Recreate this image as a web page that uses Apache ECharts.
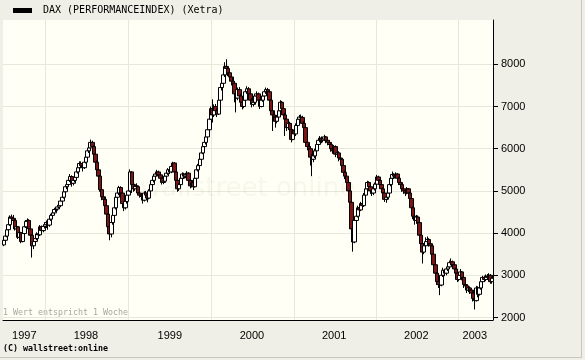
<!DOCTYPE html>
<html><head><meta charset="utf-8">
<script src="https://cdn.jsdelivr.net/npm/echarts@6/dist/echarts.min.js"></script>
<style>html,body{margin:0;padding:0;background:#f0efe7}#c{width:585px;height:360px}</style>
</head><body><div id="c"></div>
<script>
const seriesName = 'DAX (PERFORMANCEINDEX) (Xetra)';
const years = ['1997','1998','1999','2000','2001','2002','2003'];
const yTicks = [2000,3000,4000,5000,6000,7000,8000];
// weekly candles: [open, close, low, high]
const w1997 = [
[3720,3830,3690,3870],[3830,3930,3800,3970],[3930,4080,3900,4110],[4080,4200,4050,4250],
[4200,4380,4170,4420],[4380,4350,4290,4440],[4350,4300,4230,4430],[4300,4100,4060,4330],
[4100,4150,4040,4200],[4150,3900,3860,4170],[3900,4010,3850,4060],[4010,3800,3760,4030],
[3800,3990,3780,4030],[3990,4150,3960,4190],[4150,4280,4120,4310],[4280,4300,4200,4350],
[4300,4100,4050,4330],[4100,3950,3880,4140],[3950,3700,3420,3980],[3700,3800,3620,3860],
[3800,3870,3720,3920],[3870,3980,3830,4020],[3980,3960,3880,4040],[3960,4150,3930,4190],
[4150,4060,4000,4180],[4060,4160,4020,4200],[4160,4200,4110,4260]
];
const w1998 = [
[4200,4250,4120,4300],[4250,4190,4080,4290],[4190,4330,4150,4370],[4330,4420,4290,4460],
[4420,4480,4380,4520],[4480,4560,4440,4600],[4560,4570,4500,4620],[4570,4620,4530,4670],
[4620,4650,4580,4700],[4650,4760,4620,4800],[4760,4850,4720,4890],[4850,4980,4820,5020],
[4980,5100,4950,5140],[5100,5150,5040,5200],[5150,5250,5110,5290],[5250,5340,5210,5400],
[5340,5180,5100,5370],[5180,5250,5130,5300],[5250,5320,5200,5370],[5320,5450,5290,5490],
[5450,5550,5410,5600],[5550,5650,5510,5700],[5650,5600,5540,5700],[5600,5550,5460,5640],
[5550,5680,5520,5720],[5680,5800,5650,5840],[5800,5950,5770,5990],[5950,6020,5900,6080],
[6020,6150,5990,6217],[6150,6050,5990,6190],[6050,5870,5820,6080],[5870,5680,5620,5900],
[5680,5500,5440,5720],[5500,5350,5280,5540],[5350,5030,4980,5380],[5030,4860,4780,5080],
[4860,4800,4680,4950],[4800,4650,4580,4850],[4650,4450,4400,4720],[4450,4150,4090,4480],
[4150,3980,3830,4200],[3980,4250,3900,4300],[4250,4420,4200,4460],[4420,4600,4380,4650],
[4600,4850,4560,4900],[4850,4950,4800,5000],[4950,5080,4900,5120],[5080,4950,4900,5110],
[4950,4700,4650,4980],[4700,4600,4520,4760],[4600,4750,4560,4800],[4750,4900,4700,4950]
];
const w1999 = [
[4900,5000,4860,5050],[5000,5450,4980,5510],[5450,5150,4950,5470],[5150,5050,4980,5200],
[5050,5120,5000,5170],[5120,5100,5030,5180],[5100,4950,4900,5130],[4950,4900,4840,5000],
[4900,4870,4800,4950],[4870,4780,4700,4900],[4780,4950,4750,4990],[4950,4900,4840,5000],
[4900,4830,4730,4940],[4830,5000,4800,5040],[5000,5150,4970,5190],[5150,5250,5110,5290],
[5250,5350,5200,5390],[5350,5400,5300,5450],[5400,5450,5350,5500],[5450,5380,5320,5480],
[5380,5300,5240,5410],[5300,5200,5150,5320],[5200,5230,5160,5280],[5230,5350,5200,5390],
[5350,5420,5310,5460],[5420,5500,5380,5540],[5500,5450,5400,5530],[5450,5580,5420,5620],
[5580,5660,5540,5690],[5660,5450,5400,5680],[5450,5250,5200,5470],[5250,5050,4980,5270],
[5050,5150,5000,5190],[5150,5300,5120,5340],[5300,5400,5260,5440],[5400,5350,5290,5430],
[5350,5380,5300,5420],[5380,5420,5330,5470],[5420,5250,5200,5440],[5250,5120,5060,5270],
[5120,5200,5080,5240],[5200,5100,5020,5230],[5100,5300,5080,5340],[5300,5500,5270,5530],
[5500,5600,5460,5640],[5600,5750,5570,5790],[5750,5900,5720,5940],[5900,6050,5870,6090],
[6050,6150,6010,6200],[6150,6280,6100,6320],[6280,6450,6240,6490],[6450,6700,6420,6740],
[6700,6950,6680,7000]
];
const w2000 = [
[6950,6800,6620,7170],[6800,7000,6750,7050],[7000,6900,6830,7060],[6900,6820,6750,6950],
[6820,7150,6800,7190],[7150,7450,7120,7500],[7450,7550,7380,7620],[7550,7750,7500,7820],
[7750,7950,7700,8050],[7950,7900,7800,8120],[7900,7800,7720,7960],[7800,7700,7620,7880],
[7700,7600,7500,7760],[7600,7550,7450,7680],[7550,7300,7100,7600],[7300,7200,6860,7350],
[7200,7400,7150,7450],[7400,7250,7180,7460],[7250,7100,7020,7300],[7100,7000,6930,7180],
[7000,7150,6960,7200],[7150,7350,7120,7400],[7350,7420,7300,7480],[7420,7300,7240,7460],
[7300,7150,7080,7330],[7150,7050,6980,7200],[7050,7100,7000,7160],[7100,7250,7060,7290],
[7250,7300,7200,7360],[7300,7150,7080,7330],[7150,7000,6940,7180],[7000,7150,6980,7190],
[7150,7250,7110,7290],[7250,7350,7210,7400],[7350,7400,7300,7450],[7400,7350,7280,7440],
[7350,7150,7080,7380],[7150,6900,6830,7180],[6900,6800,6420,6950],[6800,6750,6650,6900],
[6750,6650,6500,6800],[6650,6750,6600,6800],[6750,6900,6700,6950],[6900,7100,6870,7150],
[7100,6950,6880,7130],[6950,6800,6720,6980],[6800,6700,6300,6850],[6700,6500,6420,6750],
[6500,6600,6450,6650],[6600,6450,6380,6640],[6450,6220,6150,6480],[6220,6430,6200,6470]
];
const w2001 = [
[6430,6350,6250,6500],[6350,6550,6300,6600],[6550,6700,6500,6750],[6700,6750,6640,6800],
[6750,6740,6650,6810],[6740,6600,6520,6780],[6600,6500,6420,6650],[6500,6150,6060,6530],
[6150,6050,5960,6200],[6050,6000,5900,6120],[6000,5800,5600,6050],[5800,5750,5350,5880],
[5750,5830,5680,5900],[5830,5950,5780,6000],[5950,6100,5900,6140],[6100,6200,6050,6250],
[6200,6250,6150,6300],[6250,6200,6130,6290],[6200,6230,6150,6280],[6230,6280,6180,6330],
[6280,6200,6130,6300],[6200,6150,6080,6240],[6150,6100,6030,6200],[6100,6000,5930,6130],
[6000,5950,5880,6050],[5950,6050,5900,6090],[6050,5870,5800,6080],[5870,5900,5800,5960],
[5900,5780,5700,5940],[5780,5750,5670,5830],[5750,5600,5530,5780],[5600,5440,5380,5630],
[5440,5350,5280,5480],[5350,5200,5130,5380],[5200,5000,4930,5230],[5000,4730,4650,5030],
[4730,4100,4050,4760],[4100,3790,3560,4150],[3790,4300,3760,4350],[4300,4400,4250,4450],
[4400,4600,4370,4650],[4600,4550,4480,4660],[4550,4700,4520,4740],[4700,4650,4580,4750],
[4650,4900,4620,4950],[4900,5050,4870,5100],[5050,5200,5010,5240],[5200,5100,5030,5230],
[5100,5000,4930,5130],[5000,4950,4880,5040],[4950,5050,4900,5100],[5050,5160,5010,5200]
];
const w2002 = [
[5160,5330,5120,5380],[5330,5250,5180,5360],[5250,5150,5080,5280],[5150,5050,4980,5180],
[5050,4950,4880,5080],[4950,4800,4740,4980],[4800,4850,4720,4900],[4850,4950,4800,5000],
[4950,5150,4920,5190],[5150,5300,5110,5340],[5300,5390,5260,5460],[5390,5350,5280,5420],
[5350,5400,5300,5440],[5400,5300,5240,5420],[5300,5200,5140,5330],[5200,5150,5080,5230],
[5150,5050,4980,5180],[5050,5000,4930,5080],[5000,4950,4880,5040],[4950,5050,4920,5090],
[5050,4950,4880,5070],[4950,4820,4750,4980],[4820,4600,4530,4850],[4600,4400,4330,4630],
[4400,4300,4200,4450],[4300,4380,4220,4430],[4380,4250,4180,4420],[4250,3950,3880,4280],
[3950,3750,3650,3980],[3750,3550,3280,3780],[3550,3700,3500,3750],[3700,3800,3650,3900],
[3800,3850,3740,3920],[3850,3750,3680,3880],[3750,3700,3620,3790],[3700,3500,3430,3730],
[3500,3250,3180,3530],[3250,3050,2980,3280],[3050,2850,2780,3080],[2850,2780,2700,2900],
[2780,2770,2530,2850],[2770,3000,2740,3050],[3000,3120,2960,3180],[3120,3050,2980,3150],
[3050,3150,3000,3200],[3150,3200,3100,3250],[3200,3300,3160,3350],[3300,3320,3240,3400],
[3320,3250,3180,3350],[3250,3150,3080,3280],[3150,3050,2980,3180],[3050,2900,2840,3080]
];
const w2003 = [
[2900,3000,2860,3050],[3000,3080,2950,3150],[3080,2950,2880,3100],[2950,2780,2700,2980],
[2780,2750,2650,2820],[2750,2650,2580,2790],[2650,2700,2600,2750],[2700,2650,2560,2740],
[2650,2580,2500,2700],[2580,2450,2380,2620],[2450,2400,2190,2500],[2400,2700,2380,2750],
[2700,2550,2480,2740],[2550,2700,2520,2750],[2700,2850,2660,2890],[2850,2950,2800,2990],
[2950,2900,2840,2990],[2900,2980,2860,3020],[2980,2950,2890,3030],[2950,3000,2910,3050],
[3000,2850,2800,3030],[2850,2930,2800,2970]
];

const weekly = [w1997, w1998, w1999, w2000, w2001, w2002, w2003];
const categories = [], candles = [], yearStart = new Set(), labelAt = {};
weekly.forEach((arr, yi) => {
  if (yi > 0) yearStart.add(categories.length);
  labelAt[categories.length + Math.floor((arr.length - 1) / 2)] = years[yi];
  arr.forEach((c, k) => { categories.push(years[yi] + '-' + (k + 1)); candles.push(c); });
});

const chart = echarts.init(document.getElementById('c'), null, {renderer: 'canvas'});
chart.setOption({
  animation: false,
  backgroundColor: '#f0efe7',
  grid: {left: 3, right: 92, top: 20, bottom: 40, show: true, backgroundColor: '#fffff5', borderWidth: 0},
  xAxis: {
    type: 'category', data: categories, boundaryGap: true,
    axisLine: {lineStyle: {color: '#000', width: 1}},
    axisTick: {interval: (i) => yearStart.has(i), length: 4, lineStyle: {color: '#000'}},
    splitLine: {show: true, interval: (i) => yearStart.has(i), lineStyle: {color: '#e8e8da'}},
    axisLabel: {
      interval: (i) => labelAt[i] !== undefined,
      formatter: (v) => v.split('-')[0],
      color: '#000', fontFamily: 'Liberation Sans', fontSize: 11, margin: 10
    }
  },
  yAxis: {
    type: 'value', position: 'right', min: 1941, max: 9050,
    axisLine: {show: true, lineStyle: {color: '#000'}},
    axisTick: {show: true, length: 5, customValues: yTicks, lineStyle: {color: '#000'}},
    axisLabel: {customValues: yTicks, formatter: (v) => String(v), color: '#000', fontFamily: 'Liberation Sans', fontSize: 11, margin: 8},
    splitLine: {show: true, lineStyle: {color: '#e8e8da'}}
  },
  graphic: [
    {type: 'text', left: 140, top: 176, z: 1, silent: true,
     style: {text: 'wallstreet online', font: '26px "DejaVu Sans"', fill: 'rgba(150,150,130,0.08)'}},
    {type: 'rect', left: 13, top: 8, shape: {width: 19, height: 5}, style: {fill: '#000'}},
    {type: 'text', left: 43, top: 5, style: {text: seriesName, font: '10px "DejaVu Sans Mono"', fill: '#000'}},
    {type: 'text', left: 3, top: 309, style: {text: '1 Wert entspricht 1 Woche', font: '8.3px "DejaVu Sans Mono"', fill: '#a8a8a0'}},
    {type: 'text', left: 3, top: 345, style: {text: '(C) wallstreet:online', font: 'bold 8.3px "DejaVu Sans Mono"', fill: '#000'}},
    {type: 'line', shape: {x1: 581.5, y1: 0, x2: 581.5, y2: 358}, style: {stroke: '#c8c7bf', lineWidth: 1}},
    {type: 'line', shape: {x1: 0, y1: 357.5, x2: 582, y2: 357.5}, style: {stroke: '#c8c7bf', lineWidth: 1}}
  ],
  series: [{
    type: 'candlestick', name: seriesName, data: candles, barWidth: 4,
    itemStyle: {color: '#ffffff', color0: '#7d1515', borderColor: '#000', borderColor0: '#000', borderWidth: 1}
  }]
});
</script>
</body></html>
